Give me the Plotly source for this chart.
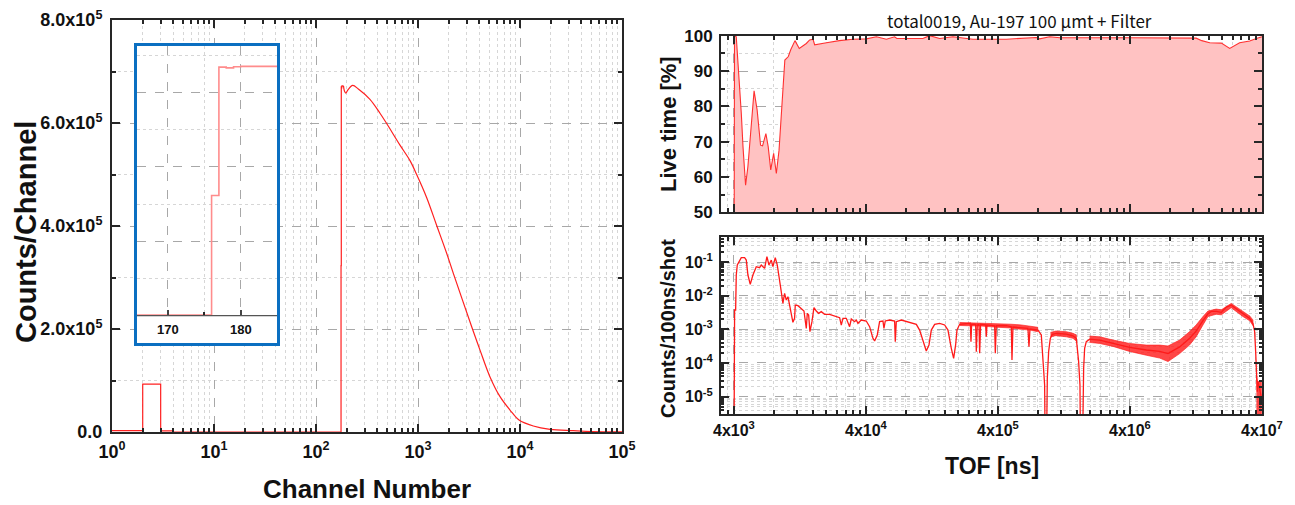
import plotly.graph_objects as go

# ---------------- data ----------------
# Left panel: channel spectrum (histogram part, step drawn)
step_channel = [1, 2, 3, 4, 175, 176, 177, 178, 179, 180, 181, 182, 183, 184, 185, 186]
step_counts = [2500, 93000, 2000, 0, 0, 323000, 670000, 668000, 671000, 672000,
               672000, 672000, 672000, 672000, 672000, 672000]
# Left panel: smooth part of the spectrum
curve_channel = [186, 190, 196, 205, 229, 260, 338, 424, 493, 666, 835, 970, 1217, 1525, 1910,
                 2220, 3360, 4055, 5080, 6370, 7980, 9780, 13500, 19700, 33300, 50000, 100000]
curve_counts = [672000, 662000, 658000, 664000, 673000, 666000, 646000, 619000, 599000,
                557000, 527000, 500000, 455000, 401000, 347000, 308000, 204500, 159000, 107000,
                68600, 42700, 23300, 11700, 5200, 2500, 800, 100]

left_x_ticks = [1, 10, 100, 1000, 10000, 100000]
left_x_labels = ["10<sup>0</sup>", "10<sup>1</sup>", "10<sup>2</sup>", "10<sup>3</sup>",
                 "10<sup>4</sup>", "10<sup>5</sup>"]
left_y_ticks = [0, 200000, 400000, 600000, 800000]
left_y_labels = ["0.0", "2.0x10<sup>5</sup>", "4.0x10<sup>5</sup>", "6.0x10<sup>5</sup>",
                 "8.0x10<sup>5</sup>"]
inset_x_ticks = [170, 180]
inset_x_labels = ["170", "180"]

# Right top: live time [%] vs TOF [ns]
live_tof = [4000, 4040, 4165, 4288, 4416, 4548, 4684, 4900, 5102, 5418,
            5683, 5993, 6364, 6590, 6984, 7270, 7600, 7996, 8380, 8784,
            9320, 9720, 10330, 10770, 11600, 12500, 14130, 14980, 15890, 16360,
            20100, 25170, 31880, 40270, 48000, 57100, 66000, 68500, 108000, 121500,
            144600, 182500, 258800, 414000, 463000, 782000, 828000, 987000, 1175000, 4000000,
            12000000, 12700000, 14000000, 16060000, 19700000, 22800000, 27100000, 32300000, 36300000, 40000000]
live_pct = [0, 100, 99.7, 93.1, 85.6, 78.0, 68.6, 57.7, 62.9, 74.2,
            84.4, 79.0, 69.0, 68.8, 72.3, 68.6, 62.0, 66.7, 61.0, 67.6,
            81.8, 93.1, 94.1, 96.0, 98.6, 96.4, 97.8, 98.8, 99.0, 97.4,
            98.0, 98.6, 99.0, 99.1, 99.7, 99.0, 99.7, 99.2, 99.2, 100,
            99.2, 99.7, 99.0, 99.0, 99.0, 99.5, 99.1, 99.7, 99.4, 99.4,
            99.4, 99.3, 98.6, 98.0, 97.9, 96.4, 98.0, 98.5, 99.2, 99.7]

# Right bottom: counts/100ns/shot vs TOF [ns]
cnt_tof = [4000, 4046, 4120, 4166, 4240, 4546, 4818, 4960, 5105, 5317,
           5570, 5905, 6259, 6442, 6829, 7112, 7365, 7674, 7897, 8225,
           8517, 8871, 9131, 9400, 9678, 9965, 10260, 10560, 10870, 11190,
           11520, 11660, 12220, 12950, 13570, 14130, 14380, 14720, 15060, 15600,
           16150, 16820, 17520, 18350, 19450, 21220, 23150, 25270, 26020, 26790,
           28380, 30080, 30970, 32830, 33800, 34790, 36880, 40230, 42650, 45200,
           46530, 48750, 50770, 53810, 54760, 56050, 60420, 65960, 66730, 67910,
           74090, 85700, 96300, 102000, 108200, 114600, 120100, 125100, 132600, 144700,
           157900, 167300, 177300, 184700, 191200, 195700, 205000, 230300, 247000, 249900,
           252800, 271100, 274300, 279100, 287300, 290700, 295800, 322800, 326600, 330400,
           377600, 382000, 388800, 462800, 505000, 510900, 519900, 675300, 687200, 699300,
           804100, 852200, 887600, 903200, 913800, 929900, 946300, 968600, 997000, 1032500,
           1107000, 1318000, 1481000, 1569000, 1634000, 1673000, 1692000, 1743000, 1784000, 1815000,
           1868000, 1981000, 2358000, 2975000, 3980000, 5323000, 6716000, 7767000, 9520000, 11330000,
           12730000, 14300000, 15610000, 16540000, 18040000, 19690000, 21480000, 23440000, 25580000, 28730000,
           32280000, 34210000, 35220000, 35840000, 36260000, 36900000, 37330000, 39570000]
cnt_val = [1e-7, 3.75e-3, 3.75e-3, 0.0411, 0.0815, 0.1345, 0.1345, 0.1146, 0.0411, 0.0217,
           0.0411, 0.0726, 0.0679, 0.0815, 0.0649, 0.1439, 0.0815, 0.1146, 0.0726, 0.1345,
           0.0815, 0.0327, 0.01315, 0.00591, 0.01172, 0.00743, 0.00933, 0.00528, 0.00267, 0.001615,
           0.00212, 0.00528, 0.00505, 0.00402, 0.00351, 0.00107, 0.00299, 0.00267, 0.000853, 0.00169,
           0.00441, 0.00351, 0.00299, 0.00335, 0.00279, 0.00279, 0.00255, 0.00222, 0.001346, 0.00212,
           0.00212, 0.0012, 0.00203, 0.00169, 0.00189, 0.00151, 0.00189, 0.00177, 0.0012, 0.000541,
           0.00045, 0.00068, 0.00169, 0.00177, 0.00107, 0.00177, 0.00189, 0.00177, 0.00043, 0.00169,
           0.00189, 0.00161, 0.00141, 0.00095, 0.00043, 0.000227, 0.000343, 0.00095, 0.00141, 0.00151,
           0.00135, 0.00095, 0.000273, 0.000138, 0.000343, 0.00095, 0.00141, 0.00151, 0.00151, 0.00043,
           0.00141, 0.00141, 0.000217, 0.00135, 0.00141, 0.000194, 0.00141, 0.00135, 0.000605, 0.00135,
           0.00128, 0.000194, 0.00128, 0.00128, 0.0012, 0.000123, 0.00117, 0.00107, 0.000305, 0.00102,
           0.00095, 0.00068, 6.95e-5, 2.22e-5, 1e-7, 1e-7, 3.5e-5, 0.000217, 0.00054, 0.00071,
           0.00076, 0.00072, 0.00064, 0.00054, 0.00011, 2.22e-5, 1e-7, 1e-7, 6.95e-5, 0.000273,
           0.00043, 0.00051, 0.00048, 0.000385, 0.00029, 0.000243, 0.00022, 0.00019, 0.0003, 0.00054,
           0.0009, 0.0018, 0.0029, 0.0034, 0.0034, 0.0032, 0.0046, 0.0052, 0.0041, 0.0029,
           0.0021, 0.0015, 0.00085, 0.00022, 4.4e-5, 1.4e-5, 2.8e-5, 1e-5]

# noise envelopes (upper / lower) of the dense counts data
band_0_tof = [205000, 300000, 400000, 500000, 600000, 700000, 800000]
band_0_hi = [1.6e-3, 1.55e-3, 1.5e-3, 1.42e-3, 1.35e-3, 1.25e-3, 1.15e-3]
band_0_lo = [1.3e-3, 1.25e-3, 1.15e-3, 1.1e-3, 1.0e-3, 0.95e-3, 0.85e-3]
band_a_tof = [1000000, 1100000, 1320000, 1480000, 1570000]
band_a_hi = [8.1e-4, 8.9e-4, 8.5e-4, 7.6e-4, 6.8e-4]
band_a_lo = [6.0e-4, 6.5e-4, 6.0e-4, 5.4e-4, 4.5e-4]
band_b_tof = [1980000, 2360000, 2980000, 3980000, 5320000, 6720000, 7770000, 9520000, 11300000,
              12700000, 14300000, 15600000, 18000000, 19700000, 23400000, 28700000, 32300000, 34200000]
band_b_hi = [6.3e-4, 6.0e-4, 4.8e-4, 3.8e-4, 3.4e-4, 3.4e-4, 3.2e-4, 4.8e-4, 8.5e-4,
             1.35e-3, 2.4e-3, 3.5e-3, 4.0e-3, 3.8e-3, 5.9e-3, 3.5e-3, 2.5e-3, 1.9e-3]
band_b_lo = [4.1e-4, 3.8e-4, 3.1e-4, 2.2e-4, 1.7e-4, 1.4e-4, 1.1e-4, 1.9e-4, 3.4e-4,
             6.0e-4, 1.35e-3, 2.4e-3, 2.8e-3, 2.7e-3, 4.4e-3, 2.4e-3, 1.8e-3, 1.3e-3]
band_c_tof = [36300000, 37000000, 38000000, 39600000]
band_c_hi = [4.4e-5, 2.8e-5, 2.8e-5, 2.8e-5]
band_c_lo = [1e-7, 1e-7, 1e-7, 1e-7]

right_x_ticks = [4e3, 4e4, 4e5, 4e6, 4e7]
right_x_labels = ["4x10<sup>3</sup>", "4x10<sup>4</sup>", "4x10<sup>5</sup>",
                  "4x10<sup>6</sup>", "4x10<sup>7</sup>"]
live_y_ticks = [50, 60, 70, 80, 90, 100]
cnt_y_ticks = [1e-5, 1e-4, 1e-3, 1e-2, 1e-1]
cnt_y_labels = ["10<sup>-5</sup>", "10<sup>-4</sup>", "10<sup>-3</sup>", "10<sup>-2</sup>",
                "10<sup>-1</sup>"]

title_text = "total0019, Au-197 100 μmt + Filter"

# ---------------- layout helpers ----------------
W, H = 1295, 505
OFF = 8  # page body margin of the html page


def px(x):
    return (x - OFF) / W


def py(y):
    return 1 - (y - OFF) / H


RED = "#ff2020"
AXC = "#262626"
MAJ_GRID = "#a8a8a8"
MIN_GRID = "#d6d6d6"
TICKFONT = dict(family="Liberation Sans, Arial", size=18, color="#111", weight="bold")

fig = go.Figure()

# left: main spectrum
fig.add_trace(go.Scatter(x=step_channel, y=step_counts, mode="lines",
                         line=dict(color=RED, width=1.2, shape="hv"),
                         xaxis="x", yaxis="y", showlegend=False))
fig.add_trace(go.Scatter(x=curve_channel, y=curve_counts, mode="lines",
                         line=dict(color=RED, width=1.2, shape="spline", smoothing=1.0),
                         xaxis="x", yaxis="y", showlegend=False))

# right top: live time
fig.add_trace(go.Scatter(x=live_tof, y=live_pct, mode="lines", fill="tozeroy",
                         fillcolor="#ffc2c2", line=dict(color="#ff3030", width=1.1),
                         xaxis="x2", yaxis="y2", showlegend=False))

# right bottom: counts (noise bands + centre line)
for bt, bh, bl in [(band_0_tof, band_0_hi, band_0_lo),
                   (band_a_tof, band_a_hi, band_a_lo),
                   (band_b_tof, band_b_hi, band_b_lo),
                   (band_c_tof, band_c_hi, band_c_lo)]:
    fig.add_trace(go.Scatter(x=bt + bt[::-1], y=bh + bl[::-1], mode="lines",
                             fill="toself", fillcolor="rgba(255,25,25,0.8)",
                             line=dict(color="rgba(255,25,25,0.8)", width=0.8),
                             xaxis="x3", yaxis="y3", showlegend=False))
fig.add_trace(go.Scatter(x=cnt_tof, y=cnt_val, mode="lines",
                         line=dict(color="#ff1a1a", width=1.3),
                         xaxis="x3", yaxis="y3", showlegend=False))

# inset
fig.add_trace(go.Scatter(x=step_channel, y=step_counts, mode="lines",
                         line=dict(color="#ff8c8c", width=1.6, shape="hv"),
                         xaxis="x4", yaxis="y4", showlegend=False))

left_x_minor = [m * 10 ** k for k in range(0, 5) for m in range(2, 10)]
right_x_minor = [4 * m * 10 ** k for k in range(2, 7) for m in range(2, 10) if 4 * m * 10 ** k > 3190]
cnt_y_minor = [m * 10.0 ** k for k in range(-6, 0) for m in range(2, 10)]

common = dict(showline=True, linecolor=AXC, linewidth=2, mirror="allticks",
              ticks="inside", ticklen=8, tickwidth=2, tickcolor=AXC,
              showgrid=True, gridcolor=MAJ_GRID, griddash="dash", gridwidth=1,
              zeroline=False, automargin=False, ticklabeloverflow="allow")


def minor(vals, grid=True, ticklen=4):
    return dict(tickmode="array", tickvals=vals, ticks="inside", ticklen=ticklen,
                tickwidth=1.5, tickcolor=AXC, showgrid=grid, gridcolor=MIN_GRID,
                griddash="dot", gridwidth=1)


fig.update_layout(
    width=W, height=H, margin=dict(l=0, r=0, t=0, b=0, pad=0, autoexpand=False),
    paper_bgcolor="white", plot_bgcolor="white",
    xaxis=dict(domain=[px(112), px(622)], anchor="y", type="log", range=[0, 5],
               tickmode="array", tickvals=left_x_ticks, ticktext=left_x_labels,
               tickfont=TICKFONT, minor=minor(left_x_minor), ticklabelstandoff=2, **common),
    yaxis=dict(domain=[py(432), py(20)], anchor="x", range=[0, 800000],
               tickmode="array", tickvals=left_y_ticks, ticktext=left_y_labels,
               tickfont=TICKFONT, minor=minor([100000, 300000, 500000, 700000]),
               ticklabelstandoff=4, **common),
    xaxis2=dict(domain=[px(721), px(1262)], anchor="y2", type="log", range=[3.504, 7.6025],
                tickmode="array", tickvals=right_x_ticks, showticklabels=False,
                minor=minor(right_x_minor), **common),
    yaxis2=dict(domain=[py(212.3), py(35.7)], anchor="x2", range=[50, 100],
                tickmode="array", tickvals=live_y_ticks,
                tickfont=dict(TICKFONT, size=17), minor=minor([55, 65, 75, 85, 95]),
                ticklabelstandoff=3, **common),
    xaxis3=dict(domain=[px(721), px(1262)], anchor="y3", type="log", range=[3.504, 7.6025],
                tickmode="array", tickvals=right_x_ticks, ticktext=right_x_labels,
                tickfont=dict(TICKFONT, size=16), minor=minor(right_x_minor), **common),
    yaxis3=dict(domain=[py(414.3), py(237.3)], anchor="x3", type="log", range=[-5.525, -0.265],
                tickmode="array", tickvals=cnt_y_ticks, ticktext=cnt_y_labels,
                tickfont=dict(TICKFONT, size=16), minor=minor(cnt_y_minor, ticklen=3),
                ticklabelstandoff=3, **common),
    xaxis4=dict(domain=[px(136.5), px(277.5)], anchor="y4", range=[165.75, 185.0],
                tickmode="array", tickvals=inset_x_ticks, showticklabels=False,
                showline=True, linecolor="#555", linewidth=2, mirror=False,
                ticks="inside", ticklen=5, tickwidth=1.5, tickcolor="#444", automargin=False,
                showgrid=True, gridcolor=MAJ_GRID, griddash="dash", zeroline=False,
                minor=minor([175], ticklen=3)),
    yaxis4=dict(domain=[py(315), py(46)], anchor="x4", range=[0, 727000],
                tickmode="array", tickvals=[200000, 400000, 600000], showticklabels=False,
                showline=False, ticks="", showgrid=True, gridcolor=MAJ_GRID, griddash="dash",
                zeroline=False, automargin=False,
                minor=dict(tickmode="array", tickvals=[100000, 300000, 500000, 700000],
                           showgrid=True, gridcolor=MIN_GRID, griddash="dot", ticks="")),
)

# inset frame and label strip
fig.add_shape(type="rect", xref="paper", yref="paper",
              x0=px(136.5), x1=px(277.5), y0=py(343), y1=py(316.3),
              fillcolor="white", line=dict(width=0), layer="above")
fig.add_shape(type="rect", xref="paper", yref="paper",
              x0=px(135.5), x1=px(278.5), y0=py(344.5), y1=py(44.5),
              line=dict(color="#0b6fc1", width=3), layer="above")

ann = []
for v, t in zip(inset_x_ticks, inset_x_labels):
    ann.append(dict(x=v, xref="x4", y=py(329), yref="paper", text=t, showarrow=False,
                    xanchor="center", yanchor="middle",
                    font=dict(family="Liberation Sans, Arial", size=13, color="#111", weight="bold")))

BOLD = dict(family="Liberation Sans, Arial", color="#111", weight="bold")
ann += [
    dict(x=px(26), y=py(232), text="Counts/Channel", textangle=-90, font=dict(BOLD, size=29)),
    dict(x=px(367), y=py(489), text="Channel Number", font=dict(BOLD, size=26)),
    dict(x=px(669), y=py(124), text="Live time [%]", textangle=-90, font=dict(BOLD, size=22)),
    dict(x=px(668), y=py(329), text="Counts/100ns/shot", textangle=-90, font=dict(BOLD, size=20)),
    dict(x=px(992), y=py(466), text="TOF [ns]", font=dict(BOLD, size=23)),
    dict(x=px(1020), y=py(20), text=title_text,
         font=dict(family="Noto Sans CJK JP, Noto Sans", size=17, color="#111")),
]
for a in ann[len(inset_x_ticks):]:
    a.update(xref="paper", yref="paper", showarrow=False, xanchor="center", yanchor="middle")
fig.update_layout(annotations=ann)

fig.write_html("out.html")
